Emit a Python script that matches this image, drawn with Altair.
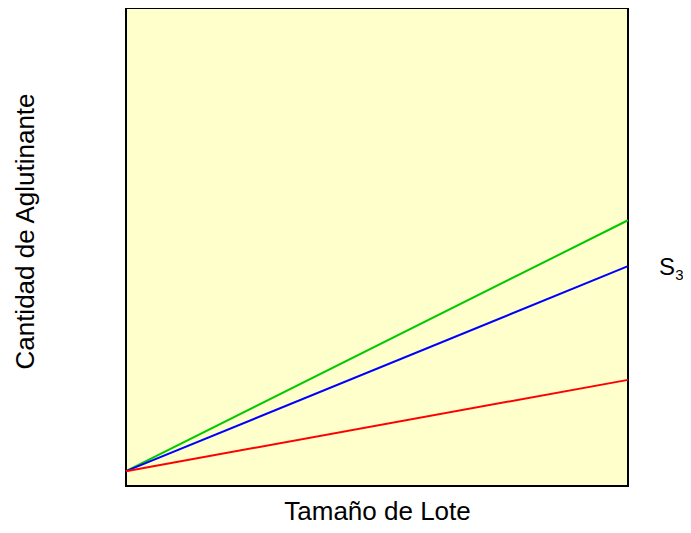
import altair as alt
import pandas as pd

x_vals = [0, 100]
green_vals = [3.1, 55.6]
blue_vals = [3.1, 46.0]
red_vals = [3.1, 22.2]
series_names = ["verde", "azul", "rojo"]
series_colors = ["#00C800", "#0000FF", "#FF0000"]

rows = []
for name, vals in zip(series_names, [green_vals, blue_vals, red_vals]):
    for xv, yv in zip(x_vals, vals):
        rows.append({"x": xv, "y": yv, "serie": name})
df = pd.DataFrame(rows)

label_main = pd.DataFrame({"x": [106.2], "y": [44.1], "t": ["S"]})
label_sub = pd.DataFrame({"x": [109.4], "y": [43.1], "t": ["3"]})

xs = alt.Scale(domain=[0, 100], nice=False)
ys = alt.Scale(domain=[0, 100], nice=False)

lines = alt.Chart(df).mark_line(strokeWidth=2).encode(
    x=alt.X("x:Q", scale=xs, axis=alt.Axis(
        title="Tamaño de Lote", domain=False, ticks=False, labels=False, grid=False,
        titleFontSize=26, titleFont="Liberation Sans", titleFontWeight="normal",
        titleColor="black", titleX=251, titleY=33, titleBaseline="alphabetic",
        titleAlign="center")),
    y=alt.Y("y:Q", scale=ys, axis=alt.Axis(
        title="Cantidad de Aglutinante", domain=False, ticks=False, labels=False, grid=False,
        titleFontSize=26, titleFont="Liberation Sans", titleFontWeight="normal",
        titleColor="black", titleX=-93, titleY=223, titleAngle=270,
        titleBaseline="alphabetic", titleAlign="center")),
    color=alt.Color("serie:N", scale=alt.Scale(domain=series_names, range=series_colors), legend=None),
    detail="serie:N",
)

t1 = alt.Chart(label_main).mark_text(font="Liberation Sans", fontSize=24, align="left",
                                      baseline="alphabetic", color="black").encode(
    x=alt.X("x:Q", scale=xs), y=alt.Y("y:Q", scale=ys), text="t:N")
t2 = alt.Chart(label_sub).mark_text(font="Liberation Sans", fontSize=15, align="left",
                                     baseline="alphabetic", color="black").encode(
    x=alt.X("x:Q", scale=xs), y=alt.Y("y:Q", scale=ys), text="t:N")

chart = alt.layer(lines, t1, t2).properties(
    width=502, height=478,
    autosize=alt.AutoSizeParams(type="none"),
    padding={"left": 118, "top": 0, "right": 55, "bottom": 39},
).configure_view(
    fill="#FFFFCC", stroke="black", strokeWidth=2
)

chart.save("out.html", embed_options={"renderer": "svg", "actions": False})
